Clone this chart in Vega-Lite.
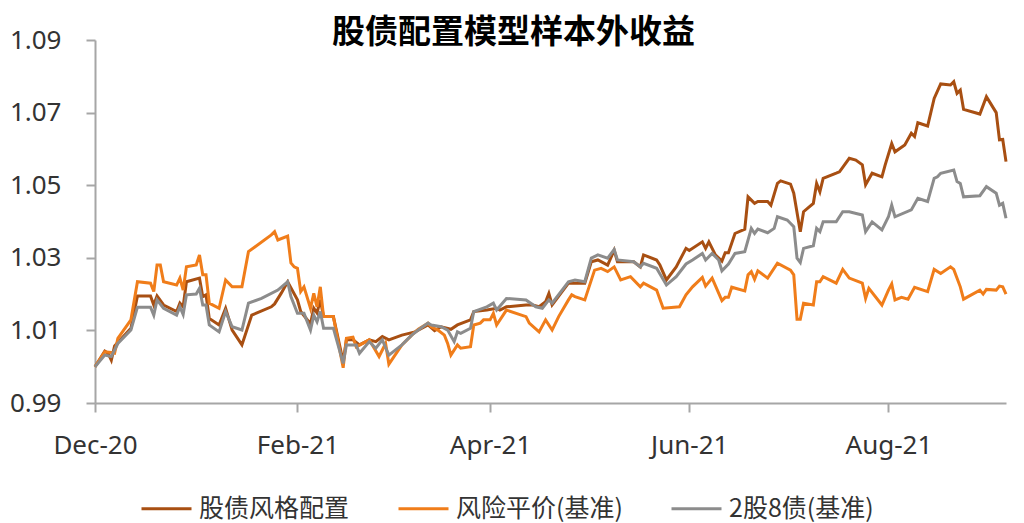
{
  "$schema": "https://vega.github.io/schema/vega-lite/v6.json",
  "width": 911,
  "height": 363,
  "autosize": {"type": "none"},
  "padding": {"left": 95, "top": 40, "right": 18, "bottom": 120},
  "background": "white",
  "title": {
    "text": "股债配置模型样本外收益",
    "font": "Noto Sans CJK SC",
    "fontSize": 33,
    "fontWeight": "bold",
    "color": "#000000",
    "anchor": "middle",
    "baseline": "middle",
    "offset": -39,
    "dx": -37
  },
  "config": {
    "view": {"stroke": null},
    "axis": {
      "grid": false,
      "domainColor": "#A6A6A6",
      "domainWidth": 2,
      "tickColor": "#A6A6A6",
      "tickWidth": 2,
      "tickSize": 9,
      "labelFont": "Noto Sans",
      "labelFontSize": 26,
      "labelColor": "#333333",
      "labelFlush": false,
      "title": null
    }
  },
  "data": {
    "values": [
      {"series":"股债风格配置","date":"2020-12-01","value":1.0000},
      {"series":"股债风格配置","date":"2020-12-04","value":1.0043},
      {"series":"股债风格配置","date":"2020-12-05","value":1.0037},
      {"series":"股债风格配置","date":"2020-12-06","value":1.0018},
      {"series":"股债风格配置","date":"2020-12-07","value":1.0057},
      {"series":"股债风格配置","date":"2020-12-12","value":1.0106},
      {"series":"股债风格配置","date":"2020-12-14","value":1.0195},
      {"series":"股债风格配置","date":"2020-12-18","value":1.0195},
      {"series":"股债风格配置","date":"2020-12-19","value":1.0170},
      {"series":"股债风格配置","date":"2020-12-20","value":1.0195},
      {"series":"股债风格配置","date":"2020-12-22","value":1.0170},
      {"series":"股债风格配置","date":"2020-12-26","value":1.0152},
      {"series":"股债风格配置","date":"2020-12-27","value":1.0175},
      {"series":"股债风格配置","date":"2020-12-28","value":1.0165},
      {"series":"股债风格配置","date":"2020-12-29","value":1.0234},
      {"series":"股债风格配置","date":"2021-01-02","value":1.0244},
      {"series":"股债风格配置","date":"2021-01-03","value":1.0193},
      {"series":"股债风格配置","date":"2021-01-04","value":1.0198},
      {"series":"股债风格配置","date":"2021-01-05","value":1.0133},
      {"series":"股债风格配置","date":"2021-01-08","value":1.0115},
      {"series":"股债风格配置","date":"2021-01-10","value":1.0161},
      {"series":"股债风格配置","date":"2021-01-12","value":1.0101},
      {"series":"股债风格配置","date":"2021-01-15","value":1.0060},
      {"series":"股债风格配置","date":"2021-01-18","value":1.0142},
      {"series":"股债风格配置","date":"2021-01-24","value":1.0165},
      {"series":"股债风格配置","date":"2021-01-25","value":1.0173},
      {"series":"股债风格配置","date":"2021-01-27","value":1.0202},
      {"series":"股债风格配置","date":"2021-01-29","value":1.0234},
      {"series":"股债风格配置","date":"2021-02-01","value":1.0184},
      {"series":"股债风格配置","date":"2021-02-02","value":1.0152},
      {"series":"股债风格配置","date":"2021-02-05","value":1.0118},
      {"series":"股债风格配置","date":"2021-02-06","value":1.0161},
      {"series":"股债风格配置","date":"2021-02-07","value":1.0148},
      {"series":"股债风格配置","date":"2021-02-08","value":1.0184},
      {"series":"股债风格配置","date":"2021-02-09","value":1.0138},
      {"series":"股债风格配置","date":"2021-02-12","value":1.0138},
      {"series":"股债风格配置","date":"2021-02-15","value":1.0014},
      {"series":"股债风格配置","date":"2021-02-16","value":1.0074},
      {"series":"股债风格配置","date":"2021-02-18","value":1.0074},
      {"series":"股债风格配置","date":"2021-02-20","value":1.0060},
      {"series":"股债风格配置","date":"2021-02-23","value":1.0074},
      {"series":"股债风格配置","date":"2021-02-25","value":1.0069},
      {"series":"股债风格配置","date":"2021-02-27","value":1.0083},
      {"series":"股债风格配置","date":"2021-03-01","value":1.0074},
      {"series":"股债风格配置","date":"2021-03-05","value":1.0087},
      {"series":"股债风格配置","date":"2021-03-09","value":1.0096},
      {"series":"股债风格配置","date":"2021-03-13","value":1.0115},
      {"series":"股债风格配置","date":"2021-03-15","value":1.0099},
      {"series":"股债风格配置","date":"2021-03-17","value":1.0110},
      {"series":"股债风格配置","date":"2021-03-20","value":1.0103},
      {"series":"股债风格配置","date":"2021-03-22","value":1.0115},
      {"series":"股债风格配置","date":"2021-03-26","value":1.0129},
      {"series":"股债风格配置","date":"2021-03-27","value":1.0152},
      {"series":"股债风格配置","date":"2021-03-31","value":1.0156},
      {"series":"股债风格配置","date":"2021-04-03","value":1.0161},
      {"series":"股债风格配置","date":"2021-04-04","value":1.0156},
      {"series":"股债风格配置","date":"2021-04-06","value":1.0165},
      {"series":"股债风格配置","date":"2021-04-12","value":1.0170},
      {"series":"股债风格配置","date":"2021-04-14","value":1.0170},
      {"series":"股债风格配置","date":"2021-04-16","value":1.0165},
      {"series":"股债风格配置","date":"2021-04-18","value":1.0179},
      {"series":"股债风格配置","date":"2021-04-19","value":1.0202},
      {"series":"股债风格配置","date":"2021-04-20","value":1.0170},
      {"series":"股债风格配置","date":"2021-04-25","value":1.0230},
      {"series":"股债风格配置","date":"2021-04-27","value":1.0230},
      {"series":"股债风格配置","date":"2021-04-30","value":1.0230},
      {"series":"股债风格配置","date":"2021-05-02","value":1.0289},
      {"series":"股债风格配置","date":"2021-05-04","value":1.0294},
      {"series":"股债风格配置","date":"2021-05-07","value":1.0280},
      {"series":"股债风格配置","date":"2021-05-09","value":1.0321},
      {"series":"股债风格配置","date":"2021-05-10","value":1.0289},
      {"series":"股债风格配置","date":"2021-05-15","value":1.0289},
      {"series":"股债风格配置","date":"2021-05-17","value":1.0275},
      {"series":"股债风格配置","date":"2021-05-18","value":1.0308},
      {"series":"股债风格配置","date":"2021-05-22","value":1.0294},
      {"series":"股债风格配置","date":"2021-05-23","value":1.0280},
      {"series":"股债风格配置","date":"2021-05-25","value":1.0239},
      {"series":"股债风格配置","date":"2021-05-28","value":1.0275},
      {"series":"股债风格配置","date":"2021-05-31","value":1.0326},
      {"series":"股债风格配置","date":"2021-06-01","value":1.0320},
      {"series":"股债风格配置","date":"2021-06-05","value":1.0344},
      {"series":"股债风格配置","date":"2021-06-06","value":1.0326},
      {"series":"股债风格配置","date":"2021-06-07","value":1.0344},
      {"series":"股债风格配置","date":"2021-06-09","value":1.0308},
      {"series":"股债风格配置","date":"2021-06-11","value":1.0291},
      {"series":"股债风格配置","date":"2021-06-12","value":1.0314},
      {"series":"股债风格配置","date":"2021-06-13","value":1.0314},
      {"series":"股债风格配置","date":"2021-06-15","value":1.0367},
      {"series":"股债风格配置","date":"2021-06-18","value":1.0379},
      {"series":"股债风格配置","date":"2021-06-19","value":1.0468},
      {"series":"股债风格配置","date":"2021-06-21","value":1.0450},
      {"series":"股债风格配置","date":"2021-06-22","value":1.0455},
      {"series":"股债风格配置","date":"2021-06-25","value":1.0455},
      {"series":"股债风格配置","date":"2021-06-26","value":1.0445},
      {"series":"股债风格配置","date":"2021-06-28","value":1.0505},
      {"series":"股债风格配置","date":"2021-06-29","value":1.0512},
      {"series":"股债风格配置","date":"2021-07-02","value":1.0503},
      {"series":"股债风格配置","date":"2021-07-03","value":1.0478},
      {"series":"股债风格配置","date":"2021-07-05","value":1.0372},
      {"series":"股债风格配置","date":"2021-07-06","value":1.0427},
      {"series":"股债风格配置","date":"2021-07-09","value":1.0450},
      {"series":"股债风格配置","date":"2021-07-10","value":1.0505},
      {"series":"股债风格配置","date":"2021-07-11","value":1.0482},
      {"series":"股债风格配置","date":"2021-07-12","value":1.0519},
      {"series":"股债风格配置","date":"2021-07-16","value":1.0533},
      {"series":"股债风格配置","date":"2021-07-17","value":1.0537},
      {"series":"股债风格配置","date":"2021-07-20","value":1.0574},
      {"series":"股债风格配置","date":"2021-07-22","value":1.0569},
      {"series":"股债风格配置","date":"2021-07-24","value":1.0556},
      {"series":"股债风格配置","date":"2021-07-25","value":1.0501},
      {"series":"股债风格配置","date":"2021-07-27","value":1.0533},
      {"series":"股债风格配置","date":"2021-07-30","value":1.0523},
      {"series":"股债风格配置","date":"2021-07-31","value":1.0556},
      {"series":"股债风格配置","date":"2021-08-02","value":1.0615},
      {"series":"股债风格配置","date":"2021-08-03","value":1.0592},
      {"series":"股债风格配置","date":"2021-08-06","value":1.0611},
      {"series":"股债风格配置","date":"2021-08-08","value":1.0643},
      {"series":"股债风格配置","date":"2021-08-09","value":1.0634},
      {"series":"股债风格配置","date":"2021-08-10","value":1.0672},
      {"series":"股债风格配置","date":"2021-08-13","value":1.0663},
      {"series":"股债风格配置","date":"2021-08-15","value":1.0739},
      {"series":"股债风格配置","date":"2021-08-17","value":1.0779},
      {"series":"股债风格配置","date":"2021-08-20","value":1.0776},
      {"series":"股债风格配置","date":"2021-08-21","value":1.0785},
      {"series":"股债风格配置","date":"2021-08-22","value":1.0753},
      {"series":"股债风格配置","date":"2021-08-23","value":1.0762},
      {"series":"股债风格配置","date":"2021-08-24","value":1.0709},
      {"series":"股债风格配置","date":"2021-08-29","value":1.0696},
      {"series":"股债风格配置","date":"2021-08-31","value":1.0744},
      {"series":"股债风格配置","date":"2021-09-03","value":1.0700},
      {"series":"股债风格配置","date":"2021-09-04","value":1.0625},
      {"series":"股债风格配置","date":"2021-09-05","value":1.0626},
      {"series":"股债风格配置","date":"2021-09-06","value":1.0565},

      {"series":"风险平价(基准)","date":"2020-12-01","value":1.0000},
      {"series":"风险平价(基准)","date":"2020-12-04","value":1.0041},
      {"series":"风险平价(基准)","date":"2020-12-06","value":1.0039},
      {"series":"风险平价(基准)","date":"2020-12-07","value":1.0037},
      {"series":"风险平价(基准)","date":"2020-12-08","value":1.0078},
      {"series":"风险平价(基准)","date":"2020-12-12","value":1.0129},
      {"series":"风险平价(基准)","date":"2020-12-14","value":1.0234},
      {"series":"风险平价(基准)","date":"2020-12-18","value":1.0230},
      {"series":"风险平价(基准)","date":"2020-12-19","value":1.0207},
      {"series":"风险平价(基准)","date":"2020-12-20","value":1.0280},
      {"series":"风险平价(基准)","date":"2020-12-21","value":1.0280},
      {"series":"风险平价(基准)","date":"2020-12-22","value":1.0234},
      {"series":"风险平价(基准)","date":"2020-12-26","value":1.0225},
      {"series":"风险平价(基准)","date":"2020-12-27","value":1.0244},
      {"series":"风险平价(基准)","date":"2020-12-28","value":1.0211},
      {"series":"风险平价(基准)","date":"2020-12-29","value":1.0275},
      {"series":"风险平价(基准)","date":"2021-01-01","value":1.0280},
      {"series":"风险平价(基准)","date":"2021-01-02","value":1.0308},
      {"series":"风险平价(基准)","date":"2021-01-03","value":1.0253},
      {"series":"风险平价(基准)","date":"2021-01-04","value":1.0253},
      {"series":"风险平价(基准)","date":"2021-01-05","value":1.0175},
      {"series":"风险平价(基准)","date":"2021-01-08","value":1.0161},
      {"series":"风险平价(基准)","date":"2021-01-10","value":1.0239},
      {"series":"风险平价(基准)","date":"2021-01-12","value":1.0220},
      {"series":"风险平价(基准)","date":"2021-01-15","value":1.0220},
      {"series":"风险平价(基准)","date":"2021-01-17","value":1.0317},
      {"series":"风险平价(基准)","date":"2021-01-24","value":1.0363},
      {"series":"风险平价(基准)","date":"2021-01-25","value":1.0372},
      {"series":"风险平价(基准)","date":"2021-01-26","value":1.0349},
      {"series":"风险平价(基准)","date":"2021-01-29","value":1.0360},
      {"series":"风险平价(基准)","date":"2021-01-30","value":1.0286},
      {"series":"风险平价(基准)","date":"2021-01-31","value":1.0275},
      {"series":"风险平价(基准)","date":"2021-02-01","value":1.0271},
      {"series":"风险平价(基准)","date":"2021-02-02","value":1.0207},
      {"series":"风险平价(基准)","date":"2021-02-03","value":1.0220},
      {"series":"风险平价(基准)","date":"2021-02-05","value":1.0161},
      {"series":"风险平价(基准)","date":"2021-02-06","value":1.0202},
      {"series":"风险平价(基准)","date":"2021-02-07","value":1.0165},
      {"series":"风险平价(基准)","date":"2021-02-08","value":1.0220},
      {"series":"风险平价(基准)","date":"2021-02-09","value":1.0138},
      {"series":"风险平价(基准)","date":"2021-02-12","value":1.0138},
      {"series":"风险平价(基准)","date":"2021-02-15","value":0.9997},
      {"series":"风险平价(基准)","date":"2021-02-16","value":1.0078},
      {"series":"风险平价(基准)","date":"2021-02-18","value":1.0081},
      {"series":"风险平价(基准)","date":"2021-02-19","value":1.0055},
      {"series":"风险平价(基准)","date":"2021-02-23","value":1.0074},
      {"series":"风险平价(基准)","date":"2021-02-26","value":1.0028},
      {"series":"风险平价(基准)","date":"2021-02-28","value":1.0064},
      {"series":"风险平价(基准)","date":"2021-03-01","value":1.0007},
      {"series":"风险平价(基准)","date":"2021-03-05","value":1.0060},
      {"series":"风险平价(基准)","date":"2021-03-08","value":1.0087},
      {"series":"风险平价(基准)","date":"2021-03-10","value":1.0103},
      {"series":"风险平价(基准)","date":"2021-03-13","value":1.0120},
      {"series":"风险平价(基准)","date":"2021-03-14","value":1.0110},
      {"series":"风险平价(基准)","date":"2021-03-16","value":1.0101},
      {"series":"风险平价(基准)","date":"2021-03-18","value":1.0087},
      {"series":"风险平价(基准)","date":"2021-03-19","value":1.0064},
      {"series":"风险平价(基准)","date":"2021-03-20","value":1.0032},
      {"series":"风险平价(基准)","date":"2021-03-22","value":1.0060},
      {"series":"风险平价(基准)","date":"2021-03-23","value":1.0051},
      {"series":"风险平价(基准)","date":"2021-03-26","value":1.0055},
      {"series":"风险平价(基准)","date":"2021-03-27","value":1.0115},
      {"series":"风险平价(基准)","date":"2021-03-29","value":1.0120},
      {"series":"风险平价(基准)","date":"2021-03-30","value":1.0129},
      {"series":"风险平价(基准)","date":"2021-04-01","value":1.0129},
      {"series":"风险平价(基准)","date":"2021-04-02","value":1.0147},
      {"series":"风险平价(基准)","date":"2021-04-03","value":1.0115},
      {"series":"风险平价(基准)","date":"2021-04-06","value":1.0156},
      {"series":"风险平价(基准)","date":"2021-04-12","value":1.0138},
      {"series":"风险平价(基准)","date":"2021-04-13","value":1.0120},
      {"series":"风险平价(基准)","date":"2021-04-16","value":1.0096},
      {"series":"风险平价(基准)","date":"2021-04-18","value":1.0129},
      {"series":"风险平价(基准)","date":"2021-04-20","value":1.0101},
      {"series":"风险平价(基准)","date":"2021-04-22","value":1.0138},
      {"series":"风险平价(基准)","date":"2021-04-25","value":1.0184},
      {"series":"风险平价(基准)","date":"2021-04-26","value":1.0198},
      {"series":"风险平价(基准)","date":"2021-04-27","value":1.0193},
      {"series":"风险平价(基准)","date":"2021-04-30","value":1.0184},
      {"series":"风险平价(基准)","date":"2021-05-03","value":1.0266},
      {"series":"风险平价(基准)","date":"2021-05-05","value":1.0271},
      {"series":"风险平价(基准)","date":"2021-05-07","value":1.0262},
      {"series":"风险平价(基准)","date":"2021-05-09","value":1.0275},
      {"series":"风险平价(基准)","date":"2021-05-11","value":1.0239},
      {"series":"风险平价(基准)","date":"2021-05-14","value":1.0248},
      {"series":"风险平价(基准)","date":"2021-05-17","value":1.0220},
      {"series":"风险平价(基准)","date":"2021-05-18","value":1.0230},
      {"series":"风险平价(基准)","date":"2021-05-22","value":1.0211},
      {"series":"风险平价(基准)","date":"2021-05-24","value":1.0161},
      {"series":"风险平价(基准)","date":"2021-05-29","value":1.0165},
      {"series":"风险平价(基准)","date":"2021-05-31","value":1.0198},
      {"series":"风险平价(基准)","date":"2021-06-02","value":1.0220},
      {"series":"风险平价(基准)","date":"2021-06-05","value":1.0246},
      {"series":"风险平价(基准)","date":"2021-06-06","value":1.0222},
      {"series":"风险平价(基准)","date":"2021-06-08","value":1.0244},
      {"series":"风险平价(基准)","date":"2021-06-11","value":1.0182},
      {"series":"风险平价(基准)","date":"2021-06-12","value":1.0191},
      {"series":"风险平价(基准)","date":"2021-06-13","value":1.0191},
      {"series":"风险平价(基准)","date":"2021-06-14","value":1.0219},
      {"series":"风险平价(基准)","date":"2021-06-18","value":1.0209},
      {"series":"风险平价(基准)","date":"2021-06-19","value":1.0253},
      {"series":"风险平价(基准)","date":"2021-06-20","value":1.0262},
      {"series":"风险平价(基准)","date":"2021-06-21","value":1.0241},
      {"series":"风险平价(基准)","date":"2021-06-22","value":1.0264},
      {"series":"风险平价(基准)","date":"2021-06-25","value":1.0244},
      {"series":"风险平价(基准)","date":"2021-06-28","value":1.0285},
      {"series":"风险平价(基准)","date":"2021-07-02","value":1.0266},
      {"series":"风险平价(基准)","date":"2021-07-03","value":1.0253},
      {"series":"风险平价(基准)","date":"2021-07-04","value":1.0131},
      {"series":"风险平价(基准)","date":"2021-07-05","value":1.0131},
      {"series":"风险平价(基准)","date":"2021-07-06","value":1.0175},
      {"series":"风险平价(基准)","date":"2021-07-09","value":1.0170},
      {"series":"风险平价(基准)","date":"2021-07-10","value":1.0234},
      {"series":"风险平价(基准)","date":"2021-07-11","value":1.0234},
      {"series":"风险平价(基准)","date":"2021-07-12","value":1.0248},
      {"series":"风险平价(基准)","date":"2021-07-16","value":1.0230},
      {"series":"风险平价(基准)","date":"2021-07-18","value":1.0268},
      {"series":"风险平价(基准)","date":"2021-07-20","value":1.0244},
      {"series":"风险平价(基准)","date":"2021-07-24","value":1.0230},
      {"series":"风险平价(基准)","date":"2021-07-25","value":1.0188},
      {"series":"风险平价(基准)","date":"2021-07-26","value":1.0216},
      {"series":"风险平价(基准)","date":"2021-07-30","value":1.0170},
      {"series":"风险平价(基准)","date":"2021-08-01","value":1.0211},
      {"series":"风险平价(基准)","date":"2021-08-02","value":1.0228},
      {"series":"风险平价(基准)","date":"2021-08-03","value":1.0184},
      {"series":"风险平价(基准)","date":"2021-08-05","value":1.0191},
      {"series":"风险平价(基准)","date":"2021-08-07","value":1.0186},
      {"series":"风险平价(基准)","date":"2021-08-09","value":1.0219},
      {"series":"风险平价(基准)","date":"2021-08-13","value":1.0207},
      {"series":"风险平价(基准)","date":"2021-08-15","value":1.0268},
      {"series":"风险平价(基准)","date":"2021-08-17","value":1.0257},
      {"series":"风险平价(基准)","date":"2021-08-20","value":1.0275},
      {"series":"风险平价(基准)","date":"2021-08-21","value":1.0268},
      {"series":"风险平价(基准)","date":"2021-08-23","value":1.0220},
      {"series":"风险平价(基准)","date":"2021-08-24","value":1.0186},
      {"series":"风险平价(基准)","date":"2021-08-29","value":1.0211},
      {"series":"风险平价(基准)","date":"2021-08-30","value":1.0200},
      {"series":"风险平价(基准)","date":"2021-08-31","value":1.0213},
      {"series":"风险平价(基准)","date":"2021-09-03","value":1.0211},
      {"series":"风险平价(基准)","date":"2021-09-04","value":1.0222},
      {"series":"风险平价(基准)","date":"2021-09-05","value":1.0220},
      {"series":"风险平价(基准)","date":"2021-09-06","value":1.0200},

      {"series":"2股8债(基准)","date":"2020-12-01","value":1.0000},
      {"series":"2股8债(基准)","date":"2020-12-04","value":1.0032},
      {"series":"2股8债(基准)","date":"2020-12-06","value":1.0028},
      {"series":"2股8债(基准)","date":"2020-12-08","value":1.0064},
      {"series":"2股8债(基准)","date":"2020-12-12","value":1.0101},
      {"series":"2股8债(基准)","date":"2020-12-14","value":1.0164},
      {"series":"2股8债(基准)","date":"2020-12-18","value":1.0164},
      {"series":"2股8债(基准)","date":"2020-12-19","value":1.0142},
      {"series":"2股8债(基准)","date":"2020-12-20","value":1.0184},
      {"series":"2股8债(基准)","date":"2020-12-22","value":1.0161},
      {"series":"2股8债(基准)","date":"2020-12-26","value":1.0142},
      {"series":"2股8债(基准)","date":"2020-12-27","value":1.0165},
      {"series":"2股8债(基准)","date":"2020-12-28","value":1.0144},
      {"series":"2股8债(基准)","date":"2020-12-29","value":1.0198},
      {"series":"2股8债(基准)","date":"2021-01-01","value":1.0200},
      {"series":"2股8债(基准)","date":"2021-01-02","value":1.0216},
      {"series":"2股8债(基准)","date":"2021-01-03","value":1.0170},
      {"series":"2股8债(基准)","date":"2021-01-04","value":1.0170},
      {"series":"2股8债(基准)","date":"2021-01-05","value":1.0115},
      {"series":"2股8债(基准)","date":"2021-01-08","value":1.0096},
      {"series":"2股8债(基准)","date":"2021-01-10","value":1.0152},
      {"series":"2股8债(基准)","date":"2021-01-12","value":1.0110},
      {"series":"2股8债(基准)","date":"2021-01-15","value":1.0101},
      {"series":"2股8债(基准)","date":"2021-01-17","value":1.0175},
      {"series":"2股8债(基准)","date":"2021-01-21","value":1.0188},
      {"series":"2股8债(基准)","date":"2021-01-26","value":1.0211},
      {"series":"2股8债(基准)","date":"2021-01-29","value":1.0234},
      {"series":"2股8债(基准)","date":"2021-01-30","value":1.0193},
      {"series":"2股8债(基准)","date":"2021-02-01","value":1.0147},
      {"series":"2股8债(基准)","date":"2021-02-03","value":1.0147},
      {"series":"2股8债(基准)","date":"2021-02-05","value":1.0101},
      {"series":"2股8债(基准)","date":"2021-02-06","value":1.0142},
      {"series":"2股8债(基准)","date":"2021-02-07","value":1.0124},
      {"series":"2股8债(基准)","date":"2021-02-08","value":1.0152},
      {"series":"2股8债(基准)","date":"2021-02-09","value":1.0106},
      {"series":"2股8债(基准)","date":"2021-02-12","value":1.0106},
      {"series":"2股8债(基准)","date":"2021-02-15","value":1.0009},
      {"series":"2股8债(基准)","date":"2021-02-16","value":1.0060},
      {"series":"2股8债(基准)","date":"2021-02-19","value":1.0060},
      {"series":"2股8债(基准)","date":"2021-02-20","value":1.0037},
      {"series":"2股8债(基准)","date":"2021-02-23","value":1.0069},
      {"series":"2股8债(基准)","date":"2021-02-25","value":1.0051},
      {"series":"2股8债(基准)","date":"2021-02-27","value":1.0074},
      {"series":"2股8债(基准)","date":"2021-03-01","value":1.0032},
      {"series":"2股8债(基准)","date":"2021-03-05","value":1.0060},
      {"series":"2股8债(基准)","date":"2021-03-08","value":1.0087},
      {"series":"2股8债(基准)","date":"2021-03-10","value":1.0101},
      {"series":"2股8债(基准)","date":"2021-03-13","value":1.0120},
      {"series":"2股8债(基准)","date":"2021-03-14","value":1.0115},
      {"series":"2股8债(基准)","date":"2021-03-17","value":1.0110},
      {"series":"2股8债(基准)","date":"2021-03-19","value":1.0101},
      {"series":"2股8债(基准)","date":"2021-03-21","value":1.0069},
      {"series":"2股8债(基准)","date":"2021-03-22","value":1.0096},
      {"series":"2股8债(基准)","date":"2021-03-23","value":1.0092},
      {"series":"2股8债(基准)","date":"2021-03-26","value":1.0106},
      {"series":"2股8债(基准)","date":"2021-03-27","value":1.0152},
      {"series":"2股8债(基准)","date":"2021-03-31","value":1.0165},
      {"series":"2股8债(基准)","date":"2021-04-02","value":1.0175},
      {"series":"2股8债(基准)","date":"2021-04-03","value":1.0156},
      {"series":"2股8债(基准)","date":"2021-04-06","value":1.0188},
      {"series":"2股8债(基准)","date":"2021-04-12","value":1.0184},
      {"series":"2股8债(基准)","date":"2021-04-15","value":1.0165},
      {"series":"2股8债(基准)","date":"2021-04-17","value":1.0161},
      {"series":"2股8债(基准)","date":"2021-04-19","value":1.0184},
      {"series":"2股8债(基准)","date":"2021-04-20","value":1.0175},
      {"series":"2股8债(基准)","date":"2021-04-25","value":1.0234},
      {"series":"2股8债(基准)","date":"2021-04-27","value":1.0239},
      {"series":"2股8债(基准)","date":"2021-04-30","value":1.0234},
      {"series":"2股8债(基准)","date":"2021-05-02","value":1.0299},
      {"series":"2股8债(基准)","date":"2021-05-04","value":1.0308},
      {"series":"2股8债(基准)","date":"2021-05-07","value":1.0299},
      {"series":"2股8债(基准)","date":"2021-05-09","value":1.0323},
      {"series":"2股8债(基准)","date":"2021-05-10","value":1.0294},
      {"series":"2股8债(基准)","date":"2021-05-15","value":1.0289},
      {"series":"2股8债(基准)","date":"2021-05-17","value":1.0275},
      {"series":"2股8债(基准)","date":"2021-05-18","value":1.0285},
      {"series":"2股8债(基准)","date":"2021-05-22","value":1.0271},
      {"series":"2股8债(基准)","date":"2021-05-25","value":1.0225},
      {"series":"2股8债(基准)","date":"2021-05-28","value":1.0248},
      {"series":"2股8债(基准)","date":"2021-05-31","value":1.0283},
      {"series":"2股8债(基准)","date":"2021-06-02","value":1.0294},
      {"series":"2股8债(基准)","date":"2021-06-05","value":1.0312},
      {"series":"2股8债(基准)","date":"2021-06-06","value":1.0294},
      {"series":"2股8债(基准)","date":"2021-06-08","value":1.0312},
      {"series":"2股8债(基准)","date":"2021-06-10","value":1.0294},
      {"series":"2股8债(基准)","date":"2021-06-11","value":1.0264},
      {"series":"2股8债(基准)","date":"2021-06-13","value":1.0283},
      {"series":"2股8债(基准)","date":"2021-06-15","value":1.0312},
      {"series":"2股8债(基准)","date":"2021-06-18","value":1.0317},
      {"series":"2股8债(基准)","date":"2021-06-20","value":1.0381},
      {"series":"2股8债(基准)","date":"2021-06-21","value":1.0367},
      {"series":"2股8债(基准)","date":"2021-06-22","value":1.0379},
      {"series":"2股8债(基准)","date":"2021-06-25","value":1.0369},
      {"series":"2股8债(基准)","date":"2021-06-27","value":1.0381},
      {"series":"2股8债(基准)","date":"2021-06-28","value":1.0413},
      {"series":"2股8债(基准)","date":"2021-07-01","value":1.0404},
      {"series":"2股8债(基准)","date":"2021-07-03","value":1.0386},
      {"series":"2股8债(基准)","date":"2021-07-04","value":1.0299},
      {"series":"2股8债(基准)","date":"2021-07-05","value":1.0287},
      {"series":"2股8债(基准)","date":"2021-07-06","value":1.0326},
      {"series":"2股8债(基准)","date":"2021-07-09","value":1.0333},
      {"series":"2股8债(基准)","date":"2021-07-10","value":1.0381},
      {"series":"2股8债(基准)","date":"2021-07-11","value":1.0372},
      {"series":"2股8债(基准)","date":"2021-07-12","value":1.0399},
      {"series":"2股8债(基准)","date":"2021-07-16","value":1.0399},
      {"series":"2股8债(基准)","date":"2021-07-18","value":1.0427},
      {"series":"2股8债(基准)","date":"2021-07-20","value":1.0427},
      {"series":"2股8债(基准)","date":"2021-07-24","value":1.0418},
      {"series":"2股8债(基准)","date":"2021-07-25","value":1.0372},
      {"series":"2股8债(基准)","date":"2021-07-27","value":1.0399},
      {"series":"2股8债(基准)","date":"2021-07-30","value":1.0377},
      {"series":"2股8债(基准)","date":"2021-08-01","value":1.0413},
      {"series":"2股8债(基准)","date":"2021-08-02","value":1.0445},
      {"series":"2股8债(基准)","date":"2021-08-03","value":1.0413},
      {"series":"2股8债(基准)","date":"2021-08-08","value":1.0432},
      {"series":"2股8债(基准)","date":"2021-08-10","value":1.0464},
      {"series":"2股8债(基准)","date":"2021-08-13","value":1.0455},
      {"series":"2股8债(基准)","date":"2021-08-15","value":1.0519},
      {"series":"2股8债(基准)","date":"2021-08-16","value":1.0523},
      {"series":"2股8债(基准)","date":"2021-08-17","value":1.0533},
      {"series":"2股8债(基准)","date":"2021-08-21","value":1.0542},
      {"series":"2股8债(基准)","date":"2021-08-22","value":1.0510},
      {"series":"2股8债(基准)","date":"2021-08-23","value":1.0505},
      {"series":"2股8债(基准)","date":"2021-08-24","value":1.0468},
      {"series":"2股8债(基准)","date":"2021-08-29","value":1.0471},
      {"series":"2股8债(基准)","date":"2021-08-31","value":1.0496},
      {"series":"2股8债(基准)","date":"2021-09-03","value":1.0478},
      {"series":"2股8债(基准)","date":"2021-09-04","value":1.0445},
      {"series":"2股8债(基准)","date":"2021-09-05","value":1.0450},
      {"series":"2股8债(基准)","date":"2021-09-06","value":1.0409}
    ]
  },
  "mark": {"type": "line", "strokeWidth": 3, "clip": false},
  "encoding": {
    "x": {
      "field": "date",
      "type": "temporal",
      "scale": {
        "type": "utc",
        "domain": [
          {"year": 2020, "month": 12, "date": 1, "utc": true},
          {"year": 2021, "month": 9, "date": 6, "utc": true}
        ]
      },
      "axis": {
        "values": [
          {"year": 2020, "month": 12, "date": 1, "utc": true},
          {"year": 2021, "month": 2, "date": 1, "utc": true},
          {"year": 2021, "month": 4, "date": 1, "utc": true},
          {"year": 2021, "month": 6, "date": 1, "utc": true},
          {"year": 2021, "month": 8, "date": 1, "utc": true}
        ],
        "format": "%b-%y",
        "labelPadding": 20,
        "labelAngle": 0,
        "labelAlign": "center"
      }
    },
    "y": {
      "field": "value",
      "type": "quantitative",
      "scale": {"domain": [0.99, 1.09], "nice": false, "zero": false},
      "axis": {
        "values": [0.99, 1.01, 1.03, 1.05, 1.07, 1.09],
        "format": ".2f",
        "labelPadding": 25
      }
    },
    "color": {
      "field": "series",
      "type": "nominal",
      "scale": {
        "domain": ["股债风格配置", "风险平价(基准)", "2股8债(基准)"],
        "range": ["#A84F12", "#F07D1A", "#8C8C8C"]
      },
      "legend": {
        "title": null,
        "orient": "none",
        "legendX": 45,
        "legendY": 442,
        "direction": "horizontal",
        "symbolType": "stroke",
        "symbolSize": 2500,
        "symbolStrokeWidth": 3,
        "labelFont": "Noto Sans CJK SC",
        "labelFontSize": 25,
        "labelColor": "#333333",
        "labelOffset": 6,
        "labelLimit": 400,
        "columnPadding": 42
      }
    }
  }
}
